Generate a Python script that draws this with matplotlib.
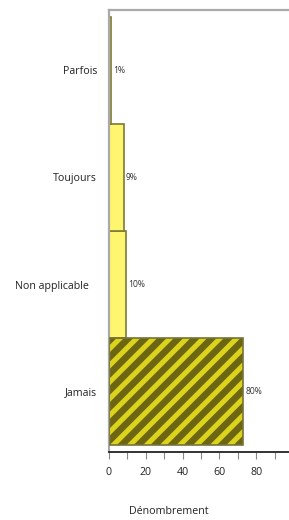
import matplotlib.pyplot as plt
import numpy as np
from matplotlib.ticker import MultipleLocator

plt.rcParams["font.family"] = ["Open Sans", "DejaVu Sans"]
plt.rcParams["hatch.linewidth"] = 4.8

# data (bottom to top)
categories = ["Jamais", "Non applicable   ", "Toujours", "Parfois"]
counts = [73, 9, 8, 1]
pct_labels = ["80%", "10%", "9%", "1%"]
hatched = [True, False, False, False]

XLABEL = "Dénombrement"

fig = plt.figure(figsize=(2.89, 5.2), dpi=100)
ax = fig.add_axes([109 / 289, 1 - 452 / 520, 180 / 289, 442 / 520])

y = np.arange(len(categories))
for yi, c, h in zip(y, counts, hatched):
    if h:
        # striped fill, then outline on top
        ax.barh(yi, c, height=1.0, color="#dcd41c", edgecolor="#6c6612",
                linewidth=0, hatch="//", zorder=2)
        ax.barh(yi, c, height=1.0, fill=False, edgecolor="#77733a",
                linewidth=1.2, zorder=3)
    else:
        ax.barh(yi, c, height=1.0, color="#fff670", edgecolor="#7c7838",
                linewidth=1.2, zorder=2)

for yi, c, lab in zip(y, counts, pct_labels):
    ax.text(c + 1.2, yi, lab, va="center", ha="left", fontsize=6.2,
            color="#333333")

ax.set_xlim(0, 97.8)
ax.set_ylim(-0.5 - 7 / 107, 3.5 + 7 / 107)
ax.set_yticks(y)
ax.set_yticklabels(categories, fontsize=7.7, color="#222222")
ax.tick_params(axis="y", length=0, pad=8.5)

ax.xaxis.set_major_locator(MultipleLocator(20))
ax.xaxis.set_minor_locator(MultipleLocator(10))
ax.set_xticks([0, 20, 40, 60, 80])
ax.tick_params(axis="x", which="both", length=5, width=0.8, color="#888888",
               labelsize=7.7, labelcolor="#222222", pad=5.5)

for s in ["left", "top"]:
    ax.spines[s].set_color("#aaaaaa")
    ax.spines[s].set_linewidth(1.6)
ax.spines["right"].set_visible(False)
ax.spines["bottom"].set_color("#111111")
ax.spines["bottom"].set_linewidth(1.2)

fig.text(169 / 289, 1 - 512 / 520, XLABEL, ha="center", va="center",
         fontsize=7.7, color="#222222")

fig.savefig("out.png", dpi=100, facecolor="white")
